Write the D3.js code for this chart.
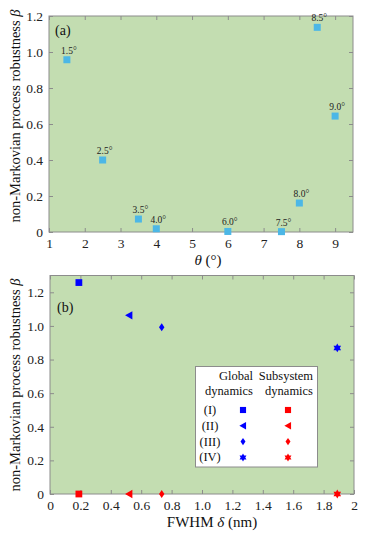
<!DOCTYPE html>
<html>
<head>
<meta charset="utf-8">
<script src="https://cdn.jsdelivr.net/npm/d3@7"></script>
<style>
  body { margin: 0; background: #fff; }
  svg { font-family: "Liberation Serif", "DejaVu Serif", serif; }
  .axis path { display: none; }
  .axis line { stroke: #8c8c8c; }
  .axis text { fill: #222; font-size: 13.5px; font-family: "Liberation Serif", serif; }
</style>
</head>
<body>
<div id="chart"></div>
<script>
// ---- panel (a): robustness vs angle
const angles = [1.5, 2.5, 3.5, 4.0, 6.0, 7.5, 8.0, 8.5, 9.0]
const betaA = [0.957, 0.40, 0.072, 0.018, 0.003, 0.002, 0.161, 1.137, 0.644]
const angleLabels = ["1.5°", "2.5°", "3.5°", "4.0°", "6.0°", "7.5°", "8.0°", "8.5°", "9.0°"]
const xTicksA = [1, 2, 3, 4, 5, 6, 7, 8, 9]
const yTicksA = [0, 0.2, 0.4, 0.6, 0.8, 1.0, 1.2]

// ---- panel (b): robustness vs FWHM
const cases = ["(I)", "(II)", "(III)", "(IV)"]
const fwhm = [0.19, 0.52, 0.735, 1.89]
const betaGlobal = [1.258, 1.063, 0.992, 0.869]
const betaSubsystem = [0, 0, 0, 0]
const xTicksB = [0, 0.2, 0.4, 0.6, 0.8, 1.0, 1.2, 1.4, 1.6, 1.8, 2]
const yTicksB = [0, 0.2, 0.4, 0.6, 0.8, 1.0, 1.2]

const W = 366, H = 534
const bg = "#c3ddb1"
const frame = "#8c8c8c"

var svg = d3.select("#chart").append("svg")
    .attr("width", W)
    .attr("height", H)

function fmt(d) { return d === 0 ? "0" : (Number.isInteger(d) && d > 1 ? String(d) : d.toFixed(1)) }

function panel(g, x, y, xt, yt, xfmt) {
  var x0 = x.range()[0], x1 = x.range()[1], y0 = y.range()[0], y1 = y.range()[1]
  g.append("rect")
    .attr("x", x0).attr("y", y1)
    .attr("width", x1 - x0).attr("height", y0 - y1)
    .attr("fill", bg)

  g.append("g").attr("class", "axis")
    .attr("transform", "translate(0," + y0 + ")")
    .call(d3.axisBottom(x).tickValues(xt).tickSizeInner(-4).tickSizeOuter(0).tickPadding(6).tickFormat(xfmt))
  g.append("g").attr("class", "axis")
    .attr("transform", "translate(0," + y1 + ")")
    .call(d3.axisTop(x).tickValues(xt).tickSizeInner(-4).tickSizeOuter(0).tickFormat(""))
  g.append("g").attr("class", "axis")
    .attr("transform", "translate(" + x0 + ",0)")
    .call(d3.axisLeft(y).tickValues(yt).tickSizeInner(-4).tickSizeOuter(0).tickPadding(6).tickFormat(fmt))
  g.append("g").attr("class", "axis")
    .attr("transform", "translate(" + x1 + ",0)")
    .call(d3.axisRight(y).tickValues(yt).tickSizeInner(-4).tickSizeOuter(0).tickFormat(""))

  g.append("rect")
    .attr("x", x0).attr("y", y1)
    .attr("width", x1 - x0).attr("height", y0 - y1)
    .attr("fill", "none")
    .attr("stroke", frame)
    .attr("stroke-width", 1)
}

function yLabel(g, cx, cy) {
  var t = g.append("text")
    .attr("transform", "translate(" + cx + "," + cy + ") rotate(-90)")
    .attr("text-anchor", "middle")
    .attr("font-size", "14.5px")
    .attr("fill", "#111")
  t.append("tspan").text("non-Markovian process robustness ")
  t.append("tspan").attr("font-style", "italic").text("β")
}

// ---------------------------------------- panel (a) ----------------------------------------
var xA = d3.scaleLinear().domain([1, 9.5]).range([49, 353])
var yA = d3.scaleLinear().domain([0, 1.2]).range([232, 16])
var gA = svg.append("g")
panel(gA, xA, yA, xTicksA, yTicksA, d3.format("d"))

gA.selectAll(".ptA").data(angles).enter().append("rect")
  .attr("class", "ptA")
  .attr("x", (d, i) => xA(d) - 3.5)
  .attr("y", (d, i) => yA(betaA[i]) - 3.5)
  .attr("width", 7).attr("height", 7)
  .attr("fill", "#4cb7e6")

gA.selectAll(".lbA").data(angles).enter().append("text")
  .attr("class", "lbA")
  .attr("x", (d, i) => xA(d) + 2)
  .attr("y", (d, i) => yA(betaA[i]) - 6)
  .attr("text-anchor", "middle")
  .attr("font-size", "9.5px")
  .attr("fill", "#222")
  .text((d, i) => angleLabels[i])

gA.append("text").attr("x", 55).attr("y", 35).attr("font-size", "14px").attr("fill", "#111").text("(a)")

var xlA = gA.append("text").attr("x", 208).attr("y", 265).attr("text-anchor", "middle")
  .attr("font-size", "15px").attr("fill", "#111")
xlA.append("tspan").attr("font-style", "italic").text("θ")
xlA.append("tspan").text(" (°)")
yLabel(gA, 20, 116)

// ---------------------------------------- panel (b) ----------------------------------------
var xB = d3.scaleLinear().domain([0, 2]).range([50, 354])
var yB = d3.scaleLinear().domain([0, 1.3]).range([494, 275.5])
var gB = svg.append("g")
panel(gB, xB, yB, xTicksB, yTicksB, fmt)

const shapes = ["square", "tri", "diamond", "star"]

function markerPath(k, s) {
  if (shapes[k] === "tri") {
    // left-pointing triangle
    return "M" + (-s * 0.95) + ",0L" + (s * 0.8) + "," + (-s) + "L" + (s * 0.8) + "," + s + "Z"
  }
  if (shapes[k] === "star") {
    // six-pointed star (two triangles)
    var r = s * 1.05, a = d3.range(3).map(j => -Math.PI / 2 + j * 2 * Math.PI / 3)
    var t1 = a.map(t => [r * Math.cos(t), r * Math.sin(t)])
    var t2 = a.map(t => [r * Math.cos(t + Math.PI), r * Math.sin(t + Math.PI)])
    return "M" + t1.join("L") + "Z M" + t2.join("L") + "Z"
  }
  if (shapes[k] === "square") return d3.symbol().type(d3.symbolSquare).size(s * s * 2.6)()
  return "M0," + (-s * 0.95) + "L" + (s * 0.65) + ",0L0," + (s * 0.95) + "L" + (-s * 0.65) + ",0Z"
}

gB.selectAll(".ptG").data(fwhm).enter().append("path")
  .attr("class", "ptG")
  .attr("transform", (d, i) => "translate(" + xB(d) + "," + yB(betaGlobal[i]) + ")")
  .attr("d", (d, i) => markerPath(i, 4.2))
  .attr("fill", "#0000ff")

gB.selectAll(".ptS").data(fwhm).enter().append("path")
  .attr("class", "ptS")
  .attr("transform", (d, i) => "translate(" + xB(d) + "," + yB(betaSubsystem[i]) + ")")
  .attr("d", (d, i) => markerPath(i, 4.2))
  .attr("fill", "#ff0000")

gB.append("text").attr("x", 57).attr("y", 312).attr("font-size", "14px").attr("fill", "#111").text("(b)")

// legend
var lg = gB.append("g")
lg.append("rect").attr("x", 195.5).attr("y", 366.5).attr("width", 122).attr("height", 100.5)
  .attr("fill", "#fff").attr("stroke", frame).attr("stroke-width", 1)
const legendHead = [["Global", "dynamics"], ["Subsystem", "dynamics"]]
const headX = [253, 313]
legendHead.forEach((h, j) => {
  h.forEach((w, k) => {
    lg.append("text").attr("x", headX[j]).attr("y", 380 + k * 15)
      .attr("text-anchor", "end").attr("font-size", "12.5px").attr("fill", "#111").text(w)
  })
})
cases.forEach((c, i) => {
  var yy = 410 + i * 15.8
  lg.append("text").attr("x", 210).attr("y", yy + 4).attr("text-anchor", "middle")
    .attr("font-size", "12.5px").attr("fill", "#111").text(c)
  lg.append("path").attr("transform", "translate(243," + yy + ")").attr("d", markerPath(i, 3.8)).attr("fill", "#0000ff")
  lg.append("path").attr("transform", "translate(288," + yy + ")").attr("d", markerPath(i, 3.8)).attr("fill", "#ff0000")
})

var xlB = gB.append("text").attr("x", 212).attr("y", 527).attr("text-anchor", "middle")
  .attr("font-size", "15px").attr("fill", "#111")
xlB.append("tspan").text("FWHM ")
xlB.append("tspan").attr("font-style", "italic").text("δ")
xlB.append("tspan").text(" (nm)")
yLabel(gB, 20, 385)
</script>
</body>
</html>
